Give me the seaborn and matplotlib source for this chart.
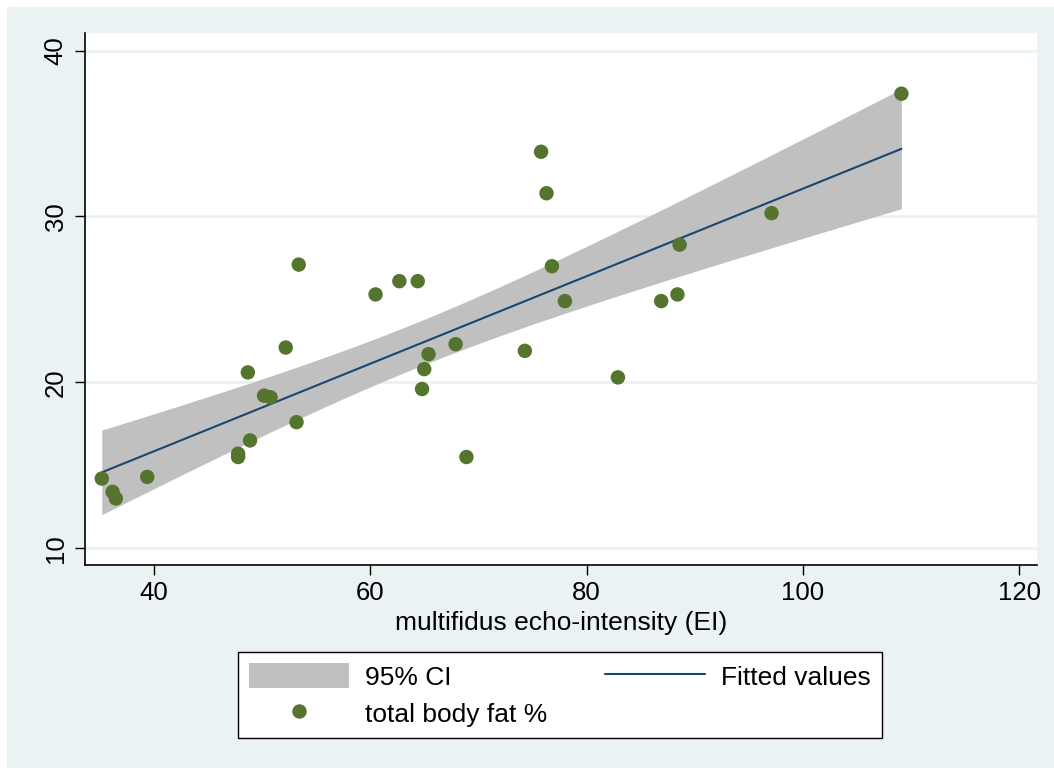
import numpy as np
import pandas as pd
import matplotlib
matplotlib.use("Agg")
import matplotlib.pyplot as plt
import matplotlib.patches as mpatches
from matplotlib.lines import Line2D
import seaborn as sns

# ---- data ----
echo_intensity = [35.2, 36.2, 36.5, 39.4, 47.8, 47.8, 48.9, 48.7, 50.2, 50.8,
                  52.2, 53.2, 53.4, 60.5, 62.7, 64.4, 64.8, 65.0, 65.4, 67.9,
                  68.9, 74.3, 75.8, 76.3, 76.8, 78.0, 82.9, 86.9, 88.4, 88.6,
                  97.1, 109.1]
body_fat = [14.2, 13.4, 13.0, 14.3, 15.7, 15.5, 16.5, 20.6, 19.2, 19.1,
            22.1, 17.6, 27.1, 25.3, 26.1, 26.1, 19.6, 20.8, 21.7, 22.3,
            15.5, 21.9, 33.9, 31.4, 27.0, 24.9, 20.3, 24.9, 25.3, 28.3,
            30.2, 37.4]
x_ticks = [40, 60, 80, 100, 120]
y_ticks = [10, 20, 30, 40]
x_label = "multifidus echo-intensity (EI)"
legend_labels = ["95% CI", "total body fat %", "Fitted values"]

df = pd.DataFrame({"ei": echo_intensity, "fat": body_fat})

# linear fit + analytic 95% CI of the mean prediction (as Stata lfitci)
x = df["ei"].to_numpy()
y = df["fat"].to_numpy()
n = len(x)
b1, b0 = np.polyfit(x, y, 1)
resid = y - (b0 + b1 * x)
s = np.sqrt(np.sum(resid ** 2) / (n - 2))
sxx = np.sum((x - x.mean()) ** 2)
t_crit = 2.042  # t(0.975, df=30)
xg = np.linspace(x.min(), x.max(), 200)
yg = b0 + b1 * xg
se = s * np.sqrt(1.0 / n + (xg - x.mean()) ** 2 / sxx)
fit = pd.DataFrame({"ei": xg, "fit": yg, "lo": yg - t_crit * se, "hi": yg + t_crit * se})

# ---- style ----
BG = "#EAF2F3"
GREEN = "#55752F"
NAVY = "#1A476F"
GRAY = "#C0C0C0"

sns.set_theme(style="white")
plt.rcParams["font.family"] = ["Liberation Sans", "DejaVu Sans"]

W, H = 1054, 768
fig = plt.figure(figsize=(W / 100, H / 100), dpi=100, facecolor="white")
fig.patches.append(mpatches.Rectangle((7 / W, 0), 1 - 7 / W, 1 - 7 / H,
                                      transform=fig.transFigure, facecolor=BG,
                                      edgecolor="none", zorder=-10))

left, right, top, bottom = 85, 1037, 33, 565
ax = fig.add_axes([left / W, 1 - bottom / H, (right - left) / W, (bottom - top) / H])
ax.set_facecolor("white")

ax.fill_between(fit["ei"], fit["lo"], fit["hi"], color=GRAY, linewidth=0, zorder=2)
sns.lineplot(data=fit, x="ei", y="fit", ax=ax, color=NAVY, linewidth=1.5, zorder=3)
sns.scatterplot(data=df, x="ei", y="fat", ax=ax, color=GREEN, s=108,
                edgecolor="none", zorder=4)

ax.set_xlim(33.65, 121.63)
ax.set_ylim(8.99, 41.06)
ax.set_xticks(x_ticks)
ax.set_yticks(y_ticks)
ax.set_xticklabels([str(v) for v in x_ticks])
ax.set_yticklabels([str(v) for v in y_ticks], rotation=90, va="center")

ax.grid(axis="y", color=BG, linewidth=2, zorder=0)
ax.grid(axis="x", visible=False)
ax.set_axisbelow(True)

for side in ["top", "right"]:
    ax.spines[side].set_visible(False)
for side in ["left", "bottom"]:
    ax.spines[side].set_color("black")
    ax.spines[side].set_linewidth(1.2)

ax.tick_params(axis="both", direction="out", length=7.5, width=1.0, color="black",
               labelsize=18.5, labelcolor="black", bottom=True, left=True)
ax.tick_params(axis="y", pad=5)
ax.tick_params(axis="x", pad=4)

ax.set_xlabel(x_label, fontsize=19, color="black", labelpad=4)
ax.set_ylabel("")

# ---- legend ----
h_ci = mpatches.Patch(facecolor=GRAY, edgecolor="none")
h_pt = Line2D([], [], linestyle="none", marker="o", markersize=10.4,
              markerfacecolor=GREEN, markeredgecolor="none")
h_ln = Line2D([], [], color=NAVY, linewidth=1.5)

leg = fig.legend([h_ci, h_pt, h_ln], legend_labels, ncol=2,
                 loc="upper left", mode="expand",
                 bbox_to_anchor=(238 / W, 28 / H, 644 / W, (740 - 652) / H),
                 bbox_transform=fig.transFigure, borderaxespad=0,
                 fontsize=19, handlelength=3.8, handleheight=1.1,
                 handletextpad=0.6, labelspacing=0.4, borderpad=0.42,
                 columnspacing=2.0, fancybox=False, frameon=True)
frame = leg.get_frame()
frame.set_facecolor("white")
frame.set_edgecolor("black")
frame.set_linewidth(1.0)
frame.set_alpha(1)
for t in leg.get_texts():
    t.set_color("black")

fig.savefig("out.png", dpi=100, facecolor=fig.get_facecolor())
